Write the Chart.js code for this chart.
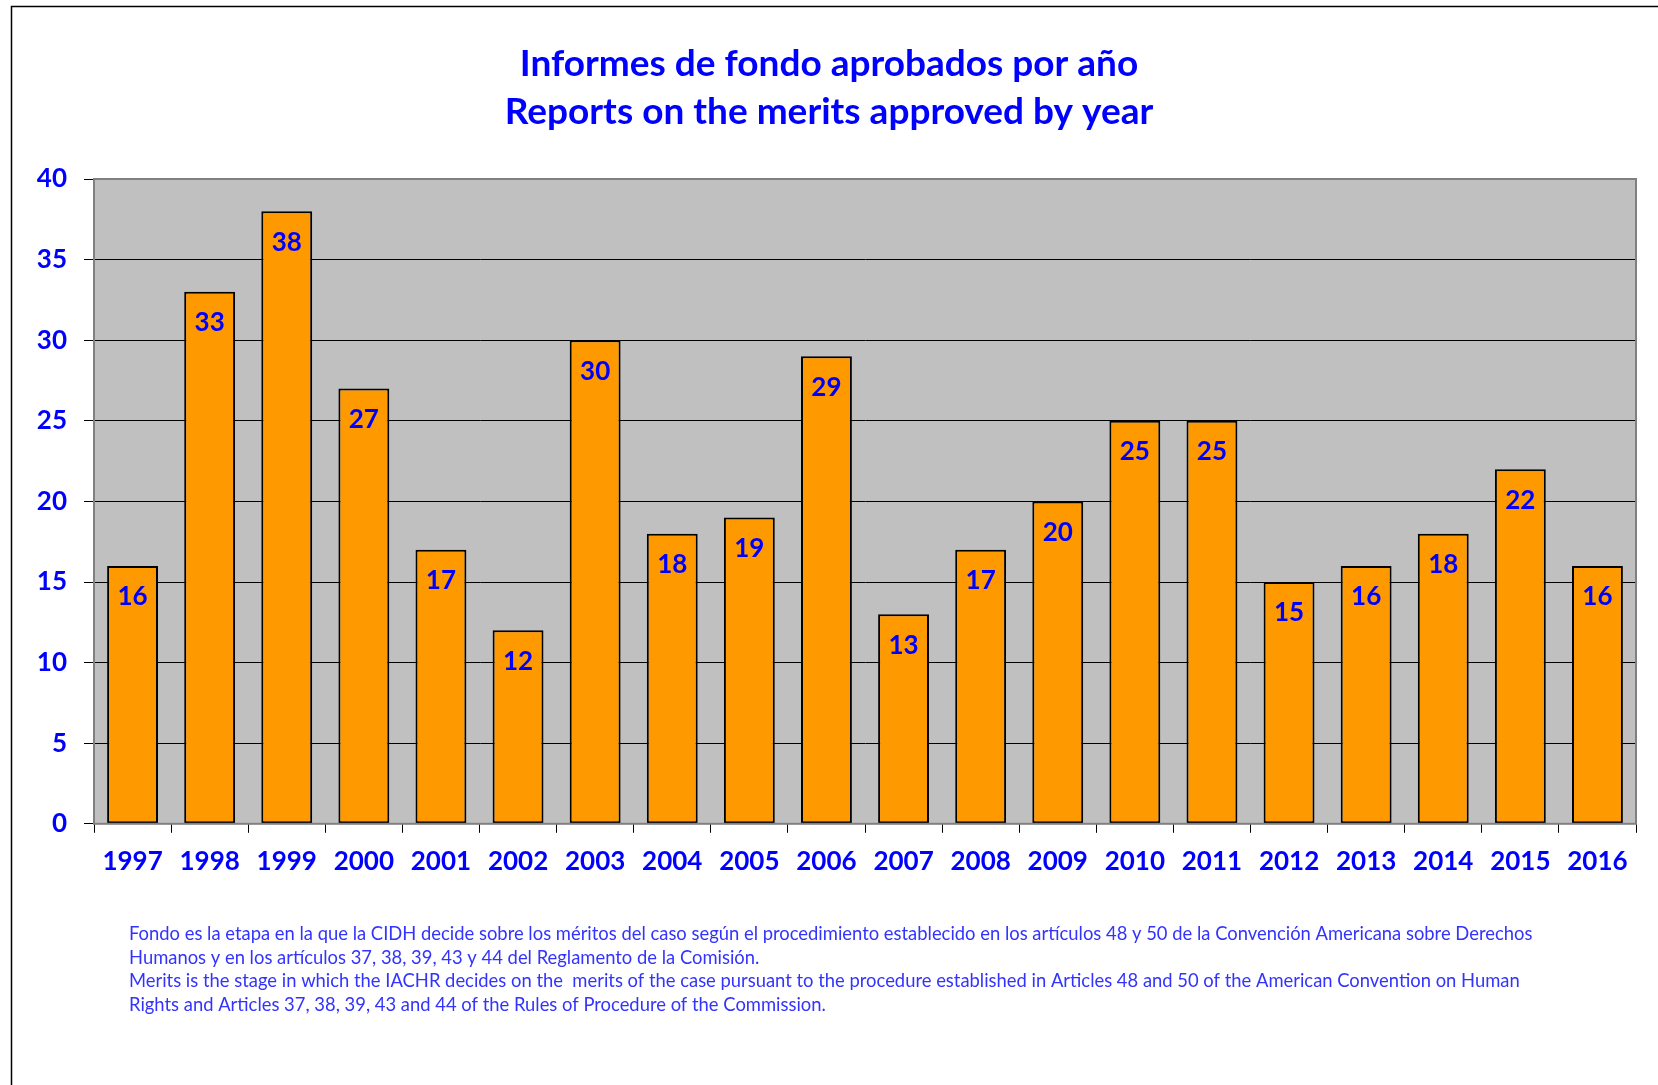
<meta charset="utf-8"/>
<style>body{margin:0;background:#fff;} canvas{display:block;}</style>
<div style="width:1658px;height:1085px;"><canvas id="c" width="1658" height="1085"></canvas></div>
<script src="https://cdn.jsdelivr.net/npm/chart.js"></script>
<script>
const years = ['1997','1998','1999','2000','2001','2002','2003','2004','2005','2006','2007','2008','2009','2010','2011','2012','2013','2014','2015','2016'];
const reports = [16,33,38,27,17,12,30,18,19,29,13,17,20,25,25,15,16,18,22,16];
const titleLines = ['Informes de fondo aprobados por año', 'Reports on the merits approved by year'];
const notes = [
	'Fondo es la etapa en la que la CIDH decide sobre los méritos del caso según el procedimiento establecido en los artículos 48 y 50 de la Convención Americana sobre Derechos',
	'Humanos y en los artículos 37, 38, 39, 43 y 44 del Reglamento de la Comisión.',
	'Merits is the stage in which the IACHR decides on the  merits of the case pursuant to the procedure established in Articles 48 and 50 of the American Convention on Human',
	'Rights and Articles 37, 38, 39, 43 and 44 of the Rules of Procedure of the Commission.',
];

const FONT = 'Lato, "Open Sans", sans-serif';
const BLUE = '#0000ff';

// grey plot area, frame, title, value labels and footnote
const decor = {
	id: 'decor',
	beforeDraw(chart) {
		const {ctx, chartArea: a} = chart;
		ctx.save();
		ctx.fillStyle = '#fff';
		ctx.fillRect(0, 0, chart.width, chart.height);
		ctx.strokeStyle = '#000';
		ctx.lineWidth = 1.5;
		ctx.beginPath();
		ctx.moveTo(11.5, chart.height);
		ctx.lineTo(11.5, 6.5);
		ctx.lineTo(chart.width, 6.5);
		ctx.stroke();
		ctx.fillStyle = '#c0c0c0';
		ctx.fillRect(a.left, a.top, a.right - a.left, a.bottom - a.top);
		// title centred on the whole page
		ctx.font = 'bold 37px ' + FONT;
		ctx.fillStyle = BLUE;
		ctx.textAlign = 'center';
		ctx.textBaseline = 'middle';
		titleLines.forEach((t, i) => ctx.fillText(t, chart.width / 2, 64 + i * 48));
		ctx.restore();
	},
	afterDatasetsDraw(chart) {
		const {ctx, chartArea: a} = chart;
		ctx.save();
		ctx.strokeStyle = '#808080';
		ctx.lineWidth = 2;
		ctx.strokeRect(a.left, a.top, a.right - a.left, a.bottom - a.top);
		ctx.font = 'bold 26px ' + FONT;
		ctx.fillStyle = BLUE;
		ctx.textAlign = 'center';
		ctx.textBaseline = 'middle';
		chart.getDatasetMeta(0).data.forEach((bar, i) => {
			ctx.fillText(reports[i], bar.x, bar.y + 31);
		});
		ctx.font = '18.4px ' + FONT;
		ctx.fillStyle = '#3333ff';
		ctx.textAlign = 'left';
		notes.forEach((t, i) => ctx.fillText(t, 129, 934 + i * 23.7));
		ctx.restore();
	}
};

new Chart(document.getElementById('c'), {
	type: 'bar',
	data: {
		labels: years,
		datasets: [{
			data: reports,
			backgroundColor: '#ff9900',
			borderColor: '#000',
			borderWidth: 2,
			borderSkipped: false,
			categoryPercentage: 1,
			barPercentage: 0.66,
		}]
	},
	options: {
		responsive: false,
		animation: false,
		layout: {padding: {left: 0, right: 22, top: 179, bottom: 195}},
		plugins: {
			legend: {display: false},
			tooltip: {enabled: false},
			title: {display: false}
		},
		scales: {
			x: {
				grid: {drawOnChartArea: false, color: '#000', tickLength: 9, offset: true},
				border: {color: '#000', width: 1},
				ticks: {color: BLUE, font: {family: FONT, size: 26, weight: 'bold'}, padding: 13, maxRotation: 0, autoSkip: false},
			},
			y: {
				min: 0, max: 40,
				afterFit: s => { s.width = 94; },
				grid: {color: '#000', tickLength: 10},
				border: {color: '#000', width: 1},
				ticks: {stepSize: 5, color: BLUE, font: {family: FONT, size: 26, weight: 'bold'}, padding: 17},
			}
		}
	},
	plugins: [decor]
});
</script>
